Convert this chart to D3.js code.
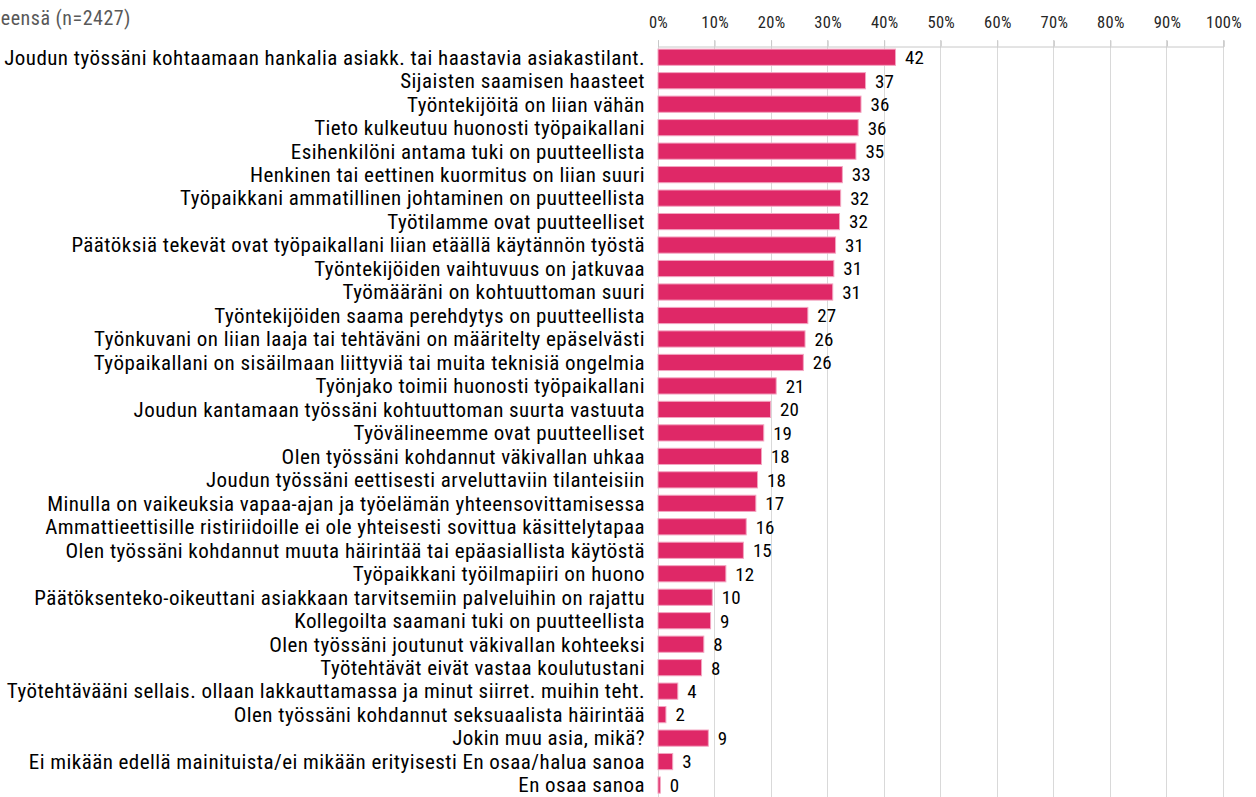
<!DOCTYPE html>
<html>

<head>
    <meta charset="UTF-8">
    <style>
        body {
            margin: 0;
            background: #ffffff;
        }

        svg text {
            font-family: "Roboto Condensed", "Liberation Sans Narrow", "DejaVu Sans Condensed", sans-serif;
        }
    </style>
</head>

<body>
    <svg></svg>

    <script src="https://d3js.org/d3.v7.min.js"></script>

    <script>
        let width = 1256, height = 797;

        let title = "Yhteensä (n=2427)";

        let categories = [
            "Joudun työssäni kohtaamaan hankalia asiakk. tai haastavia asiakastilant.",
            "Sijaisten saamisen haasteet",
            "Työntekijöitä on liian vähän",
            "Tieto kulkeutuu huonosti työpaikallani",
            "Esihenkilöni antama tuki on puutteellista",
            "Henkinen tai eettinen kuormitus on liian suuri",
            "Työpaikkani ammatillinen johtaminen on puutteellista",
            "Työtilamme ovat puutteelliset",
            "Päätöksiä tekevät ovat työpaikallani liian etäällä käytännön työstä",
            "Työntekijöiden vaihtuvuus on jatkuvaa",
            "Työmääräni on kohtuuttoman suuri",
            "Työntekijöiden saama perehdytys on puutteellista",
            "Työnkuvani on liian laaja tai tehtäväni on määritelty epäselvästi",
            "Työpaikallani on sisäilmaan liittyviä tai muita teknisiä ongelmia",
            "Työnjako toimii huonosti työpaikallani",
            "Joudun kantamaan työssäni kohtuuttoman suurta vastuuta",
            "Työvälineemme ovat puutteelliset",
            "Olen työssäni kohdannut väkivallan uhkaa",
            "Joudun työssäni eettisesti arveluttaviin tilanteisiin",
            "Minulla on vaikeuksia vapaa-ajan ja työelämän yhteensovittamisessa",
            "Ammattieettisille ristiriidoille ei ole yhteisesti sovittua käsittelytapaa",
            "Olen työssäni kohdannut muuta häirintää tai epäasiallista käytöstä",
            "Työpaikkani työilmapiiri on huono",
            "Päätöksenteko-oikeuttani asiakkaan tarvitsemiin palveluihin on rajattu",
            "Kollegoilta saamani tuki on puutteellista",
            "Olen työssäni joutunut väkivallan kohteeksi",
            "Työtehtävät eivät vastaa koulutustani",
            "Työtehtävääni sellais. ollaan lakkauttamassa ja minut siirret. muihin teht.",
            "Olen työssäni kohdannut seksuaalista häirintää",
            "Jokin muu asia, mikä?",
            "Ei mikään edellä mainituista/ei mikään erityisesti En osaa/halua sanoa",
            "En osaa sanoa"
        ];

        // bar lengths (%)
        let values = [42.0, 36.7, 35.9, 35.4, 35.0, 32.6, 32.3, 32.1, 31.4, 31.1, 30.9,
            26.5, 26.0, 25.7, 20.9, 19.9, 18.7, 18.3, 17.6, 17.3, 15.6, 15.1, 12.0,
            9.6, 9.3, 8.1, 7.7, 3.5, 1.4, 8.9, 2.6, 0.4];

        // numbers printed after the bars
        let labels = [42, 37, 36, 36, 35, 33, 32, 32, 31, 31, 31, 27, 26, 26, 21, 20, 19,
            18, 18, 17, 16, 15, 12, 10, 9, 8, 8, 4, 2, 9, 3, 0];

        let ticks = [0, 10, 20, 30, 40, 50, 60, 70, 80, 90, 100];

        let data = categories.map((c, i) => ({ cat: c, value: values[i], label: labels[i] }));

        let svg = d3.select("svg")
            .attr("width", width)
            .attr("height", height)
            .attr("viewBox", "0 0 " + width + " " + height);

        let x = d3.scaleLinear()
            .domain([0, 100])
            .range([657.5, 1223]);

        let y = d3.scaleBand()
            .domain(categories)
            .range([45.5, 796.8])
            .paddingInner(0.31)
            .paddingOuter(0.155);

        // title, cut at the left edge like the original
        svg.append("text")
            .attr("x", 131)
            .attr("y", 25)
            .attr("text-anchor", "end")
            .attr("fill", "#595959")
            .style("font-size", "20px")
            .style("letter-spacing", "0.5px")
            .text(title);

        // gridlines
        svg.append("g")
            .selectAll("line")
            .data(ticks)
            .enter()
            .append("line")
            .attr("x1", d => Math.round(x(d)) + 0.5)
            .attr("x2", d => Math.round(x(d)) + 0.5)
            .attr("y1", 40)
            .attr("y2", height)
            .attr("stroke", "#d9d9d9")
            .attr("stroke-width", 1);

        // top axis
        let axis = svg.append("g")
            .attr("transform", "translate(0.5,46.5)")
            .call(d3.axisTop(x).tickValues(ticks).tickFormat(d => d + "%").tickSize(6).tickPadding(13));

        axis.select(".domain").attr("stroke", "#c8c8c8");
        axis.selectAll(".tick line").attr("stroke", "#c8c8c8");
        axis.selectAll(".tick text")
            .attr("fill", "#262626")
            .style("font-size", "16.5px")
            .style("letter-spacing", "0.3px")
            .style("font-family", "\"Roboto Condensed\", \"Liberation Sans Narrow\", \"DejaVu Sans Condensed\", sans-serif");

        // bars
        svg.append("g")
            .selectAll("rect")
            .data(data)
            .enter()
            .append("rect")
            .attr("x", x(0) + 0.5)
            .attr("y", d => y(d.cat))
            .attr("width", d => Math.max(x(d.value) - x(0), 1))
            .attr("height", y.bandwidth())
            .attr("fill", "#df2867")
            .attr("stroke", "#f3a5c1")
            .attr("stroke-width", 1);

        // category labels
        svg.append("g")
            .selectAll("text")
            .data(data)
            .enter()
            .append("text")
            .attr("x", 645)
            .attr("y", d => y(d.cat) + y.bandwidth() / 2)
            .attr("dy", "0.35em")
            .attr("text-anchor", "end")
            .attr("fill", "#000000")
            .style("font-size", "21px")
            .style("letter-spacing", "0.45px")
            .text(d => d.cat);

        // value labels
        svg.append("g")
            .selectAll("text")
            .data(data)
            .enter()
            .append("text")
            .attr("x", d => x(d.value) + 10)
            .attr("y", d => y(d.cat) + y.bandwidth() / 2)
            .attr("dy", "0.36em")
            .attr("fill", "#000000")
            .style("font-size", "19px")
            .text(d => d.label);
    </script>

</body>

</html>
